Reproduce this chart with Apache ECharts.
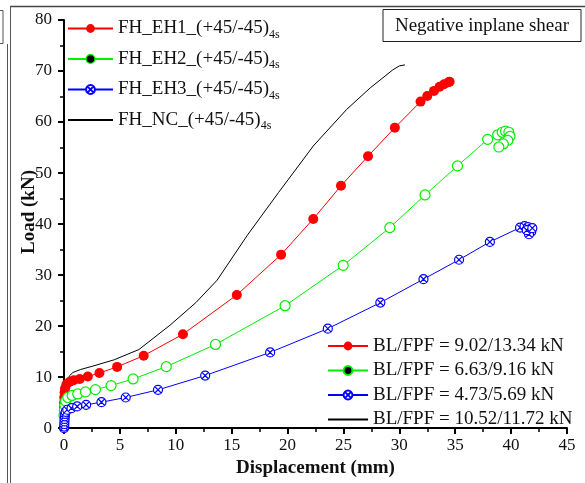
<!DOCTYPE html>
<html><head><meta charset="utf-8">
<script src="https://cdn.jsdelivr.net/npm/echarts@6/dist/echarts.min.js"></script>
<style>html,body{margin:0;padding:0;background:#fff}#c{width:585px;height:483px}</style>
</head><body><div id="c"></div>
<script>
const seriesNames = ['FH_EH1_(+45/-45)', 'FH_EH2_(+45/-45)', 'FH_EH3_(+45/-45)', 'FH_NC_(+45/-45)'];
const subscript = '4s';
const bfpfLabels = ['BL/FPF = 9.02/13.34 kN', 'BL/FPF = 6.63/9.16 kN', 'BL/FPF = 4.73/5.69 kN', 'BL/FPF = 10.52/11.72 kN'];
const xTicks = [0, 5, 10, 15, 20, 25, 30, 35, 40, 45];
const yTicks = [0, 10, 20, 30, 40, 50, 60, 70, 80];

const eh1 = [[0,3],[0,4.2],[0.01,5],[0.02,6],[0.05,7],[0.1,7.8],[0.22,8.6],[0.52,9.1],[0.88,9.4],[1.41,9.63],[2.13,10.1],[3.17,10.8],[4.75,12.0],[7.13,14.2],[10.64,18.4],[15.46,26.1],[19.42,34.0],[22.3,41.0],[24.78,47.5],[27.2,53.3],[29.6,58.9],[31.9,64.0],[32.5,65.1],[33.1,66.1],[33.6,66.9],[34.0,67.4],[34.4,67.8],[34.5,67.9]];
const eh2 = [[0,2.5],[0.03,3.5],[0.08,4.5],[0.15,5.3],[0.34,6.0],[0.73,6.4],[1.23,6.7],[1.92,7.1],[2.81,7.55],[4.21,8.33],[6.18,9.63],[9.15,12.05],[13.55,16.4],[19.78,24.0],[24.98,31.9],[29.15,39.3],[32.3,45.7],[35.2,51.4],[37.9,56.6],[38.8,57.5],[39.2,58.0],[39.5,58.2],[39.8,58.0],[39.9,57.2],[39.7,56.4],[39.3,55.7],[38.9,55.1]];
const eh3 = [[0,0],[0.02,0.3],[0.03,0.8],[0.04,1.3],[0.05,1.8],[0.07,2.3],[0.1,2.8],[0.15,3.2],[0.29,3.6],[0.67,3.9],[1.18,4.24],[1.98,4.56],[3.35,5.08],[5.52,6.0],[8.41,7.5],[12.63,10.3],[18.44,14.84],[23.6,19.5],[28.3,24.6],[32.16,29.2],[35.34,33.0],[38.1,36.5],[40.8,39.3],[41.2,39.6],[41.5,39.4],[41.7,39.0],[41.8,38.5],[41.6,38.0],[41.4,38.8],[41.9,39.2]];
const nc = [[0,0],[0.05,3],[0.1,6],[0.15,8],[0.3,9.3],[0.5,10.3],[0.8,10.9],[1.5,11.5],[2.5,12.1],[4.5,13.4],[6.7,15.4],[9.5,20.2],[11.8,24.6],[13.7,29.0],[16.4,37.8],[19.2,46.2],[22.3,55.3],[25.3,62.5],[27.4,66.7],[29.4,70.2],[30.0,71.0],[30.5,71.2]];

const FONT = 'Liberation Serif';
const crossCircle = 'path://M0 10A10 10 0 1 1 20 10A10 10 0 1 1 0 10ZM2.93 2.93L17.07 17.07M17.07 2.93L2.93 17.07';

const styles = [
  {symbol:'circle', symbolSize:10, itemStyle:{color:'#ff0000', borderColor:'#ff0000', borderWidth:0}, lineStyle:{color:'#ff0000', width:1}},
  {symbol:'circle', symbolSize:10, itemStyle:{color:'#ffffff', borderColor:'#00ee00', borderWidth:1.2}, lineStyle:{color:'#00ee00', width:1}},
  {symbol:crossCircle, symbolSize:9, itemStyle:{color:'#ffffff', borderColor:'#0000ff', borderWidth:1.2}, lineStyle:{color:'#0000ff', width:1}},
  {symbol:'none', symbolSize:0, itemStyle:{color:'#000'}, lineStyle:{color:'#000000', width:1}}
];
const dataSets = [eh1, eh2, eh3, nc];

const series = [];
dataSets.forEach((d, i) => {
  series.push(Object.assign({type:'line', name:seriesNames[i], data:d, showSymbol: i !== 3, animation:false}, JSON.parse(JSON.stringify(styles[i]))));
});
bfpfLabels.forEach((n, i) => {
  const s = JSON.parse(JSON.stringify(styles[i]));
  if (i === 1) s.itemStyle.color = '#000';
  series.push(Object.assign({type:'line', name:n, data:[], animation:false}, s));
});

const hidden = {color:'rgba(0,0,0,0)', borderColor:'rgba(0,0,0,0)', borderWidth:0, opacity:0};

const chart = echarts.init(document.getElementById('c'), null, {renderer:'canvas'});
chart.setOption({
  animation:false,
  backgroundColor:'#fff',
  grid:{left:64, right:18, top:20, bottom:53, containLabel:false},
  xAxis:{type:'value', min:xTicks[0], max:xTicks[xTicks.length-1], interval:5,
    name:'Displacement (mm)', nameLocation:'middle', nameGap:30,
    nameTextStyle:{fontFamily:FONT, fontWeight:'bold', fontSize:19, color:'#111'},
    axisLine:{lineStyle:{color:'#000', width:2}},
    axisTick:{length:6, lineStyle:{width:2, color:'#000'}},
    minorTick:{show:true, splitNumber:2, length:4, lineStyle:{width:1.5, color:'#000'}},
    splitLine:{show:false},
    axisLabel:{fontFamily:FONT, fontSize:17, color:'#111', margin:9}},
  yAxis:{type:'value', min:yTicks[0], max:yTicks[yTicks.length-1], interval:10,
    axisLine:{show:true, lineStyle:{color:'#000', width:2}},
    axisTick:{show:true, length:6, lineStyle:{width:2, color:'#000'}},
    minorTick:{show:true, splitNumber:2, length:4, lineStyle:{width:1.5, color:'#000'}},
    splitLine:{show:false},
    axisLabel:{fontFamily:FONT, fontSize:17, color:'#111', margin:12}},
  legend:[
    {orient:'vertical', left:67, top:19, padding:0, itemWidth:45, itemHeight:11, itemGap:9, selectedMode:false,
     data:[{name:seriesNames[0]}, {name:seriesNames[1], itemStyle:{color:'#000', borderColor:'#00ee00', borderWidth:1.2}}, {name:seriesNames[2]}, {name:seriesNames[3], itemStyle:hidden}],
     formatter: n => '{a|' + n + '}{s|' + subscript + '}',
     textStyle:{rich:{a:{fontFamily:FONT, fontSize:19, lineHeight:24, color:'#111'}, s:{fontFamily:FONT, fontSize:12, lineHeight:12, verticalAlign:'bottom', color:'#111'}}}},
    {orient:'vertical', left:327, top:336, padding:0, itemWidth:40, itemHeight:11, itemGap:4.5, selectedMode:false,
     data:[bfpfLabels[0], bfpfLabels[1], bfpfLabels[2], {name:bfpfLabels[3], itemStyle:hidden}],
     textStyle:{fontFamily:FONT, fontSize:19, lineHeight:20, color:'#111'}}
  ],
  graphic:[
    {type:'line', shape:{x1:10, y1:6.5, x2:585, y2:6.5}, style:{stroke:'#444', lineWidth:1.5}, silent:true},
    {type:'line', shape:{x1:10.5, y1:6.5, x2:10.5, y2:483}, style:{stroke:'#555', lineWidth:1}, silent:true},
    {type:'line', shape:{x1:7.5, y1:44, x2:7.5, y2:483}, style:{stroke:'#555', lineWidth:1}, silent:true},
    {type:'rect', shape:{x:-10, y:10.5, width:13, height:33}, style:{fill:'none', stroke:'#555', lineWidth:1}, silent:true},
    {type:'rect', shape:{x:383, y:9.5, width:198, height:32}, style:{fill:'#fff', stroke:'#222', lineWidth:1}, silent:true},
    {type:'text', x:482, y:26, style:{text:'Negative inplane shear', font:'19px "Liberation Serif"', fill:'#111', align:'center', verticalAlign:'middle'}, silent:true},
    {type:'text', x:29, y:212, rotation:Math.PI/2, style:{text:'Load (kN)', font:'bold 19px "Liberation Serif"', fill:'#111', align:'center', verticalAlign:'middle'}, silent:true}
  ],
  series: series
});
</script>
</body></html>
